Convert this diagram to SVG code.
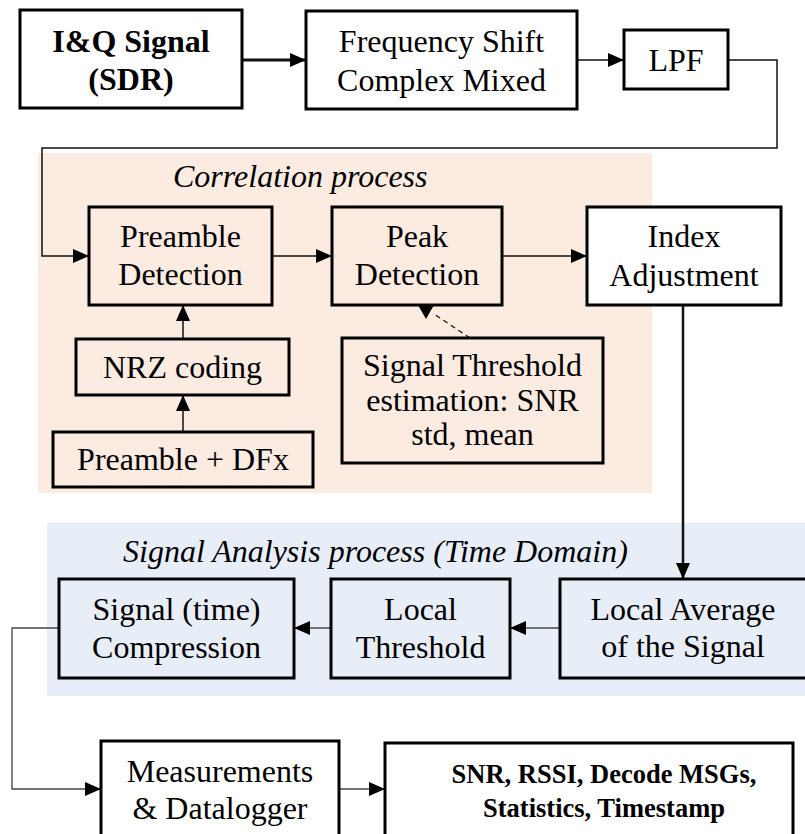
<svg xmlns="http://www.w3.org/2000/svg" width="805" height="834" viewBox="0 0 805 834">
  <style>
    .box { stroke: #000; stroke-width: 3; }
    .white { fill: #fff; }
    .peach { fill: #fbebe1; }
    .blue { fill: #e8eef8; }
    .t { font-family: 'Liberation Serif', Tinos, 'Times New Roman', 'DejaVu Serif', serif; font-size: 32px; fill: #000; text-anchor: middle; }
    .b { font-weight: bold; }
    .i { font-style: italic; text-anchor: start; }
    .wire { fill: none; stroke: #111; stroke-width: 1.5; }
    .thick { stroke-width: 3; }
    .mid { stroke-width: 2.5; }
    .grey { stroke: #444; stroke-width: 1.3; }
  </style>
  <defs>
    <marker id="arrow" markerUnits="userSpaceOnUse" markerWidth="16" markerHeight="14" refX="16" refY="7" orient="auto">
      <path d="M0,0 L16,7 L0,14 Z" fill="#000"/>
    </marker>
  </defs>

  <rect width="805" height="834" fill="#fff"/>

  <!-- process regions -->
  <rect x="38" y="153" width="614" height="340" class="peach"/>
  <text class="t i" x="173" y="187">Correlation process</text>
  <rect x="47" y="523" width="758" height="173" class="blue"/>
  <text class="t i" x="123" y="562">Signal Analysis process (Time Domain)</text>

  <!-- connectors -->
  <g id="connectors">
    <line class="wire thick" x1="242" y1="60" x2="306" y2="60" marker-end="url(#arrow)"/>
    <line class="wire" x1="577" y1="60" x2="624" y2="60" marker-end="url(#arrow)"/>
    <polyline class="wire" points="728,60 777,60 777,148 42,148 42,256 89,256" marker-end="url(#arrow)"/>
    <line class="wire" x1="272" y1="256" x2="332" y2="256" marker-end="url(#arrow)"/>
    <line class="wire" x1="502" y1="256" x2="587" y2="256" marker-end="url(#arrow)"/>
    <line class="wire" x1="183" y1="339" x2="183" y2="305" marker-end="url(#arrow)"/>
    <line class="wire" x1="183" y1="432" x2="183" y2="395" marker-end="url(#arrow)"/>
    <line x1="470" y1="338" x2="434" y2="314" stroke="#111" stroke-width="1.3" stroke-dasharray="5,4"/>
    <polygon points="418,305 434,305 426,319" fill="#000"/>
    <line class="wire mid" x1="683" y1="305" x2="683" y2="579" marker-end="url(#arrow)"/>
    <line class="wire grey" x1="560" y1="628" x2="510" y2="628" marker-end="url(#arrow)"/>
    <line class="wire grey" x1="331" y1="628" x2="294" y2="628" marker-end="url(#arrow)"/>
    <polyline class="wire grey" points="59,628 12,628 12,789 101,789" marker-end="url(#arrow)"/>
    <line class="wire grey" x1="339" y1="789" x2="385" y2="789" marker-end="url(#arrow)"/>
  </g>

  <!-- nodes -->
  <g id="iq-signal">
    <rect x="20" y="10" width="222" height="98" class="box white"/>
    <text class="t b" x="131" y="52">I&amp;Q Signal</text>
    <text class="t b" x="131" y="90">(SDR)</text>
  </g>
  <g id="freq-shift">
    <rect x="306" y="11" width="271" height="98" class="box white"/>
    <text class="t" x="441.5" y="52">Frequency Shift</text>
    <text class="t" x="441.5" y="91">Complex Mixed</text>
  </g>
  <g id="lpf">
    <rect x="624" y="30" width="104" height="59" class="box white"/>
    <text class="t" x="676" y="71">LPF</text>
  </g>
  <g id="preamble-detection">
    <rect x="89" y="207" width="183" height="98" class="box peach"/>
    <text class="t" x="180.5" y="247">Preamble</text>
    <text class="t" x="180.5" y="285">Detection</text>
  </g>
  <g id="peak-detection">
    <rect x="332" y="207" width="170" height="98" class="box peach"/>
    <text class="t" x="417" y="247">Peak</text>
    <text class="t" x="417" y="285">Detection</text>
  </g>
  <g id="index-adjustment">
    <rect x="587" y="207" width="194" height="98" class="box white"/>
    <text class="t" x="684" y="247">Index</text>
    <text class="t" x="684" y="286">Adjustment</text>
  </g>
  <g id="nrz-coding">
    <rect x="76" y="339" width="213" height="56" class="box peach"/>
    <text class="t" x="182.5" y="378">NRZ coding</text>
  </g>
  <g id="preamble-dfx">
    <rect x="53" y="432" width="260" height="55" class="box peach"/>
    <text class="t" x="183" y="470">Preamble + DFx</text>
  </g>
  <g id="signal-threshold">
    <rect x="342" y="338" width="261" height="125" class="box peach"/>
    <text class="t" x="472.5" y="376">Signal Threshold</text>
    <text class="t" x="472.5" y="411">estimation: SNR</text>
    <text class="t" x="472.5" y="445">std, mean</text>
  </g>
  <g id="local-average">
    <rect x="560" y="579" width="250" height="99" class="box blue"/>
    <text class="t" x="683" y="620">Local Average</text>
    <text class="t" x="683" y="657">of the Signal</text>
  </g>
  <g id="local-threshold">
    <rect x="331" y="579" width="179" height="99" class="box blue"/>
    <text class="t" x="420.5" y="620">Local</text>
    <text class="t" x="420.5" y="658">Threshold</text>
  </g>
  <g id="compression">
    <rect x="59" y="579" width="235" height="99" class="box blue"/>
    <text class="t" x="176.5" y="620">Signal (time)</text>
    <text class="t" x="176.5" y="658">Compression</text>
  </g>
  <g id="measurements">
    <rect x="101" y="741" width="238" height="100" class="box white"/>
    <text class="t" x="220" y="782">Measurements</text>
    <text class="t" x="220" y="819">&amp; Datalogger</text>
  </g>
  <g id="outputs">
    <rect x="385" y="743" width="408" height="98" class="box white"/>
    <text class="t b" x="604" y="783" style="font-size:26.5px">SNR, RSSI, Decode MSGs,</text>
    <text class="t b" x="604" y="817" style="font-size:26.5px">Statistics, Timestamp</text>
  </g>
</svg>
